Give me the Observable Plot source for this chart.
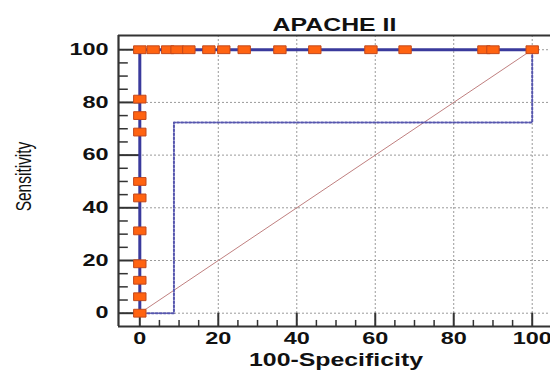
<!DOCTYPE html>
<html>
<head>
<meta charset="utf-8">
<script src="https://cdn.jsdelivr.net/npm/d3@7"></script>
<script src="https://cdn.jsdelivr.net/npm/@observablehq/plot@0.6"></script>
<style>
  html, body { margin: 0; padding: 0; background: #fff; }
</style>
</head>
<body>
<div id="chart"></div>
<script>
// ---- data ----
const title = "APACHE II";
const xLabel = "100-Specificity";
const yLabel = "Sensitivity";
// ROC curve points (100-Specificity, Sensitivity)
const rocX = [0, 0, 0, 0, 0, 0, 0, 0, 0, 0, 0,
              3.4, 7.1, 9.5, 12.5, 17.6, 21.4, 26.6, 35.7, 44.6, 58.9, 67.6, 87.7, 90.0, 100];
const rocY = [0, 6.25, 12.5, 18.75, 31.25, 43.75, 50, 68.75, 75, 81.25, 100,
              100, 100, 100, 100, 100, 100, 100, 100, 100, 100, 100, 100, 100, 100];
// dotted step line
const stepX = [0, 8.7, 8.7, 100, 100];
const stepY = [0, 0, 72.4, 72.4, 100];
// reference diagonal
const diagX = [0, 100];
const diagY = [0, 100];
// ticks
const majorTicks = [0, 20, 40, 60, 80, 100];
const minorTicks = d3.range(0, 101, 5).filter(v => v % 20 !== 0);
const xDomain = [-5.43, 104.66];
const yDomain = [-5.05, 105.4];

const roc = rocX.map((x, i) => ({x, y: rocY[i]}));
const step = stepX.map((x, i) => ({x, y: stepY[i]}));
const diag = diagX.map((x, i) => ({x, y: diagY[i]}));

const rectSymbol = { draw(context) { context.rect(-6.2, -3.9, 12.4, 7.8); } };

const axisColor = "#333";
const gridStyle = { stroke: "#9a9a9a", strokeOpacity: 1, strokeDasharray: "2,2", strokeWidth: 1 };
const chart = Plot.plot({
  width: 550,
  height: 376,
  marginLeft: 118,
  marginRight: 0,
  marginTop: 35,
  marginBottom: 50,
  style: { fontFamily: "Liberation Sans, Arial, sans-serif", background: "#fff" },
  x: { domain: xDomain, axis: null },
  y: { domain: yDomain, axis: null },
  marks: [
    Plot.ruleX(majorTicks.filter(v => v > 0), { x: d => d, ...gridStyle }),
    Plot.ruleY(majorTicks, { y: d => d, ...gridStyle }),
    Plot.line(diag, { x: "x", y: "y", stroke: "#c08080", strokeWidth: 1 }),
    Plot.line(step, { x: "x", y: "y", stroke: "#5656ae", strokeWidth: 2, strokeDasharray: "2,2" }),
    // inward ticks
    Plot.ruleX(majorTicks, { x: d => d, y1: yDomain[0], y2: 0, stroke: axisColor, strokeWidth: 2 }),
    Plot.ruleX(minorTicks, { x: d => d, y1: yDomain[0], y2: yDomain[0] + 2.3, stroke: axisColor, strokeWidth: 1.5 }),
    Plot.ruleY(majorTicks, { y: d => d, x1: xDomain[0], x2: 0, stroke: axisColor, strokeWidth: 2 }),
    Plot.ruleY(minorTicks, { y: d => d, x1: xDomain[0], x2: xDomain[0] + 2.5, stroke: axisColor, strokeWidth: 1.5 }),
    // frame lines
    Plot.ruleX([xDomain[0]], { stroke: axisColor, strokeWidth: 2.2 }),
    Plot.ruleY([yDomain[0]], { stroke: axisColor, strokeWidth: 2.2 }),
    Plot.ruleY([yDomain[1]], { stroke: axisColor, strokeWidth: 2 }),
    // ROC curve
    Plot.line(roc, { x: "x", y: "y", stroke: "#3a3a9c", strokeWidth: 3 }),
    Plot.dot(roc, { x: "x", y: "y", symbol: rectSymbol, fill: "#ff6311", stroke: "#c2481c", strokeWidth: 1, r: 5 }),
    // tick labels
    Plot.text(majorTicks, { x: d => d, frameAnchor: "bottom", dy: 17, text: d => String(d), fontSize: 16.5, fontWeight: "bold", fill: "#111" }),
    Plot.text(majorTicks, { y: d => d, frameAnchor: "left", dx: -10, textAnchor: "end", text: d => String(d), fontSize: 16.5, fontWeight: "bold", fill: "#111" }),
    // titles
    Plot.text([title], { frameAnchor: "top", dy: -16.5, fontSize: 17.5, fontWeight: "bold", fill: "#111" }),
    Plot.text([xLabel], { x: 50, frameAnchor: "bottom", dy: 39, fontSize: 17.5, fontWeight: "bold", fill: "#111" }),
    Plot.text([yLabel], { frameAnchor: "left", textAnchor: "middle", dx: -95, dy: -4.5, rotate: -90, fontSize: 15.5, fill: "#111" })
  ]
});
document.getElementById("chart").appendChild(chart);

// the reference is horizontally stretched: widen the texts horizontally
d3.select(chart).selectAll("text").each(function () {
  if (this.textContent === yLabel) {
    const t = this.getAttribute("transform") || "";
    const m = /translate\(\s*([-\d.]+)\s*,?\s*([-\d.]+)\s*\)/.exec(t);
    if (m) this.setAttribute("transform", `translate(${m[1]},${m[2]}) scale(1.42,1) rotate(-90)`);
    return;
  }
  const len = this.getComputedTextLength();
  this.setAttribute("textLength", (len * 1.42).toFixed(1));
  this.setAttribute("lengthAdjust", "spacingAndGlyphs");
});
</script>
</body>
</html>
